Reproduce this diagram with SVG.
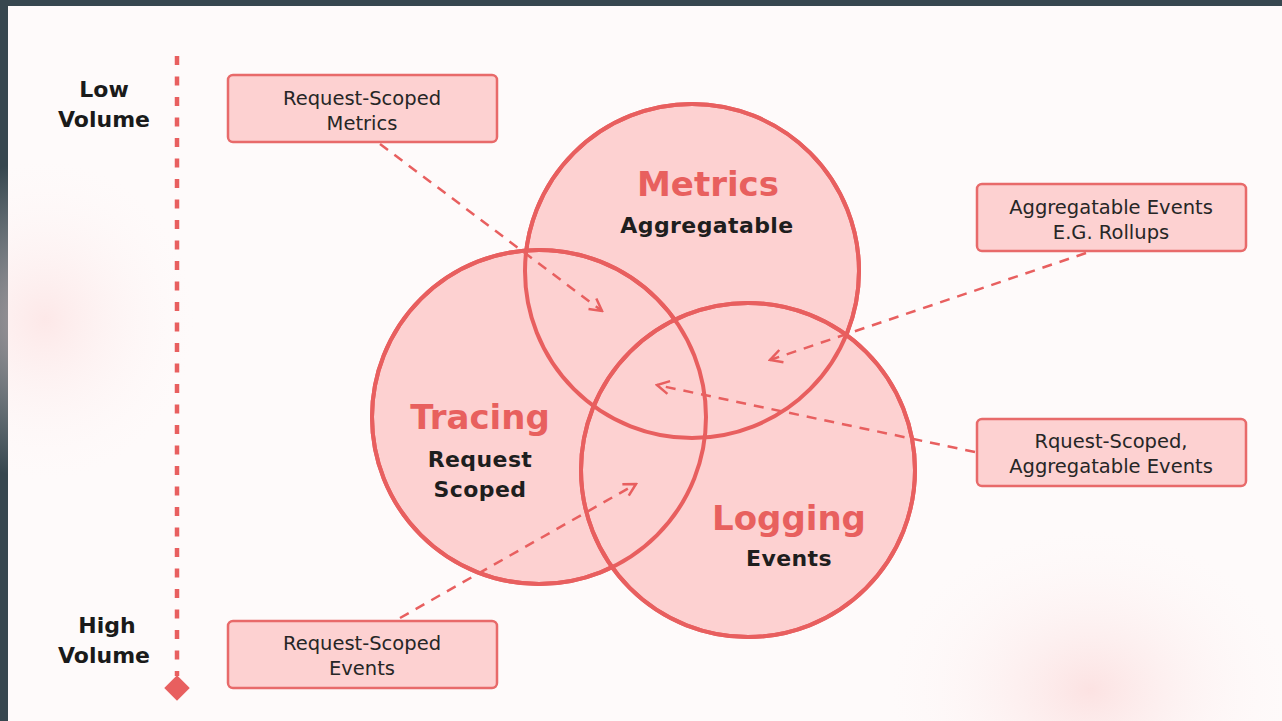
<svg xmlns="http://www.w3.org/2000/svg" width="1282" height="721" viewBox="0 0 1282 721">
  <defs>
    <style>
      .circle { fill: #fdd1d1; stroke: #e85f5f; stroke-width: 4; }
      .ring { fill: none; stroke: #e85f5f; stroke-width: 4; }
      .box { fill: #fdd1d1; stroke: #e86a6a; stroke-width: 2.5; }
      .title { font-family: "DejaVu Sans", "Noto Sans", sans-serif; font-weight: 700; font-size: 34px; fill: #e8605e; text-anchor: middle; }
      .sub { font-family: "DejaVu Sans", "Noto Sans", sans-serif; font-weight: 700; font-size: 22px; fill: #1e1e1e; text-anchor: middle; letter-spacing: 0.4px; }
      .note { font-family: "DejaVu Sans", "Noto Sans", sans-serif; font-size: 19.5px; fill: #262626; text-anchor: middle; }
      .axis-label { font-family: "DejaVu Sans", "Noto Sans", sans-serif; font-weight: 700; font-size: 22px; fill: #1a1a1a; text-anchor: middle; }
      .link { fill: none; stroke: #e85f5f; stroke-width: 2.5; stroke-dasharray: 10 8; }
    </style>
    <marker id="chev" viewBox="0 0 16 16" refX="14" refY="8" markerWidth="16" markerHeight="16" markerUnits="userSpaceOnUse" orient="auto">
      <path d="M2 1.5 L14 8 L2 14.5" fill="none" stroke="#e85f5f" stroke-width="2.5"/>
    </marker>
    <radialGradient id="glowL" cx="0.5" cy="0.5" r="0.5">
      <stop offset="0" stop-color="#fcdcdc" stop-opacity="0.6"/>
      <stop offset="1" stop-color="#fdf6f6" stop-opacity="0"/>
    </radialGradient>
    <radialGradient id="glowR" cx="0.5" cy="0.5" r="0.5">
      <stop offset="0" stop-color="#fbd8d8" stop-opacity="0.7"/>
      <stop offset="1" stop-color="#fdf6f6" stop-opacity="0"/>
    </radialGradient>
  </defs>

  <!-- frame and page -->
  <rect x="0" y="0" width="1282" height="721" fill="#37474f"/>
  <rect x="8" y="6" width="1274" height="715" fill="#fefafa"/>
  <ellipse cx="45" cy="320" rx="150" ry="160" fill="url(#glowL)"/>
  <ellipse cx="1090" cy="690" rx="200" ry="160" fill="url(#glowR)"/>

  <!-- volume axis -->
  <g id="axis">
    <line x1="177" y1="56" x2="177" y2="676" stroke="#e85f5f" stroke-width="4.5" stroke-dasharray="9 11.5"/>
    <rect x="168" y="679" width="18" height="18" transform="rotate(45 177 688)" fill="#e85f5f"/>
    <text class="axis-label" x="104" y="97">Low</text>
    <text class="axis-label" x="104" y="127">Volume</text>
    <text class="axis-label" x="107" y="633">High</text>
    <text class="axis-label" x="104" y="663">Volume</text>
  </g>

  <!-- venn fills -->
  <g id="metrics">
    <circle class="circle" cx="692" cy="271" r="167"/>
  </g>
  <g id="tracing">
    <circle class="circle" cx="539" cy="417" r="167"/>
  </g>
  <g id="logging">
    <circle class="circle" cx="748" cy="470" r="167"/>
  </g>
  <!-- outlines on top so every ring stays visible -->
  <g id="outlines">
    <circle class="ring" cx="692" cy="271" r="167"/>
    <circle class="ring" cx="539" cy="417" r="167"/>
    <circle class="ring" cx="748" cy="470" r="167"/>
  </g>

  <g id="venn-labels">
    <text class="title" x="708" y="196">Metrics</text>
    <text class="sub" x="707" y="233">Aggregatable</text>
    <text class="title" x="480" y="429">Tracing</text>
    <text class="sub" x="480" y="467">Request</text>
    <text class="sub" x="480" y="497">Scoped</text>
    <text class="title" x="789" y="530">Logging</text>
    <text class="sub" x="789" y="566">Events</text>
  </g>

  <!-- callout boxes -->
  <g id="box-request-metrics">
    <rect class="box" x="228" y="75" width="269" height="67" rx="5"/>
    <text class="note" x="362" y="105">Request-Scoped</text>
    <text class="note" x="362" y="130">Metrics</text>
  </g>
  <g id="box-rollups">
    <rect class="box" x="977" y="184" width="269" height="67" rx="5"/>
    <text class="note" x="1111" y="214">Aggregatable Events</text>
    <text class="note" x="1111" y="239">E.G. Rollups</text>
  </g>
  <g id="box-request-aggregatable">
    <rect class="box" x="977" y="419" width="269" height="67" rx="5"/>
    <text class="note" x="1111" y="448">Rquest-Scoped,</text>
    <text class="note" x="1111" y="473">Aggregatable Events</text>
  </g>
  <g id="box-request-events">
    <rect class="box" x="228" y="621" width="269" height="67" rx="5"/>
    <text class="note" x="362" y="650">Request-Scoped</text>
    <text class="note" x="362" y="675">Events</text>
  </g>

  <!-- connectors -->
  <g id="connectors">
    <line class="link" x1="380" y1="144" x2="602" y2="311" marker-end="url(#chev)"/>
    <line class="link" x1="1086" y1="253" x2="770" y2="360" marker-end="url(#chev)"/>
    <line class="link" x1="975" y1="452" x2="657" y2="385" marker-end="url(#chev)"/>
    <line class="link" x1="400" y1="618" x2="636" y2="484" marker-end="url(#chev)"/>
  </g>
</svg>
